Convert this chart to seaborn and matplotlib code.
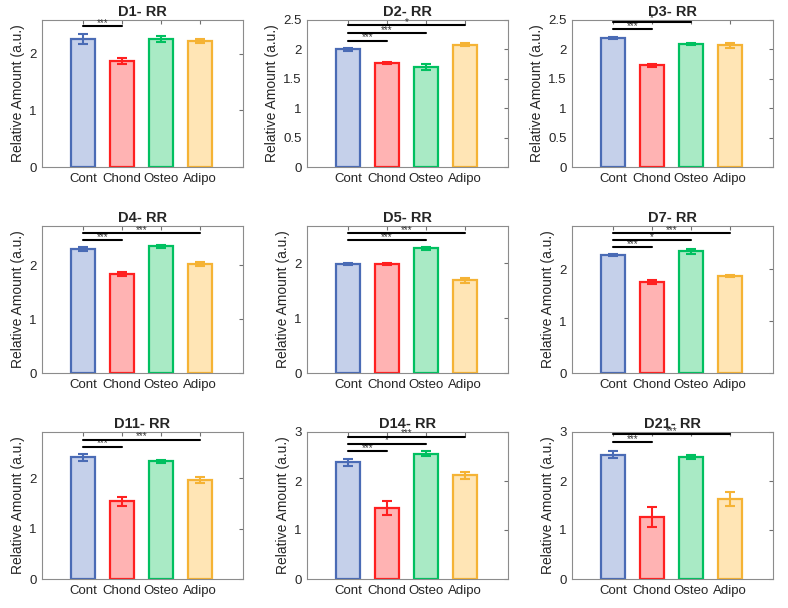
import pandas as pd
import seaborn as sns
import matplotlib.pyplot as plt
from matplotlib.ticker import FormatStrFormatter

groups = ["Cont", "Chond", "Osteo", "Adipo"]
days = ["D1", "D2", "D3", "D4", "D5", "D7", "D11", "D14", "D21"]

means = [
    [2.27, 1.87, 2.26, 2.23],
    [2.00, 1.77, 1.70, 2.08],
    [2.19, 1.73, 2.09, 2.07],
    [2.30, 1.84, 2.35, 2.03],
    [1.99, 1.99, 2.27, 1.69],
    [2.28, 1.75, 2.35, 1.88],
    [2.42, 1.54, 2.34, 1.96],
    [2.38, 1.45, 2.56, 2.12],
    [2.54, 1.27, 2.49, 1.64],
]
errs = [
    [0.09, 0.05, 0.05, 0.04],
    [0.02, 0.02, 0.05, 0.03],
    [0.02, 0.03, 0.02, 0.04],
    [0.04, 0.04, 0.02, 0.04],
    [0.02, 0.02, 0.02, 0.05],
    [0.02, 0.04, 0.05, 0.02],
    [0.07, 0.09, 0.03, 0.06],
    [0.07, 0.15, 0.05, 0.07],
    [0.07, 0.20, 0.04, 0.14],
]
# brackets from Cont to another group: (group index, height, stars)
sig = [
    [(1, 2.49, "***")],
    [(1, 2.15, "***"), (2, 2.28, "***"), (3, 2.41, "*")],
    [(1, 2.35, "***"), (2, 2.47, "*")],
    [(1, 2.47, "***"), (3, 2.60, "***")],
    [(2, 2.42, "***"), (3, 2.55, "***")],
    [(1, 2.43, "***"), (2, 2.56, "*"), (3, 2.70, "***")],
    [(1, 2.63, "***"), (3, 2.77, "***")],
    [(1, 2.61, "***"), (2, 2.76, "*"), (3, 2.90, "***")],
    [(1, 2.79, "***"), (3, 2.95, "***")],
]
ymax = [2.6, 2.5, 2.5, 2.73, 2.68, 2.84, 2.92, 3.0, 3.0]

edges = ["#4A6BB5", "#FF2020", "#00C060", "#F5B335"]
fills = ["#C5D0EA", "#FFB3B3", "#A9EAC5", "#FFE5B5"]

sns.set_style("white")
plt.rcParams['font.family'] = ['Liberation Sans', 'DejaVu Sans']

W, H = 788, 608
fig = plt.figure(figsize=(W / 100, H / 100), dpi=100)

col_left = [42, 307, 572]
row_top = [20, 226, 432]
aw, ah = 201, 147

for i, day in enumerate(days):
    r, c = divmod(i, 3)
    ax = fig.add_axes([col_left[c] / W, (H - row_top[r] - ah) / H, aw / W, ah / H])
    df = pd.DataFrame({"group": groups, "value": means[i]})
    sns.barplot(data=df, x="group", y="value", hue="group", palette=fills,
                width=0.6, linewidth=1.6, errorbar=None, legend=False,
                saturation=1, ax=ax)
    for patch, ec in zip(ax.patches, edges):
        patch.set_edgecolor(ec)
    for j in range(4):
        ax.errorbar(j, means[i][j], yerr=errs[i][j], color=edges[j],
                    capsize=3.5, elinewidth=1.5, capthick=1.5, zorder=5)
    for g, y, stars in sig[i]:
        ax.plot([0, g], [y, y], color="black", lw=1.5, zorder=6)
        ax.text(g / 2, y - 0.03, stars, ha="center", va="bottom",
                fontsize=7, color="#333333")

    ax.set_xlim(-1.05, 4.1)
    ax.set_ylim(0, ymax[i])
    if ymax[i] <= 2.5:
        ax.set_yticks([0, 0.5, 1, 1.5, 2, 2.5])
    elif ymax[i] >= 3:
        ax.set_yticks([0, 1, 2, 3])
    else:
        ax.set_yticks([0, 1, 2])
    ax.yaxis.set_major_formatter(FormatStrFormatter("%g"))
    ax.set_xlabel("")
    ax.set_ylabel("Relative Amount (a.u.)", fontsize=10, color="#262626", labelpad=3)
    ax.set_title(day + "- RR", fontsize=10.5, fontweight="bold", pad=3)
    ax.tick_params(direction="in", top=True, right=True, length=3,
                   labelsize=9.5, color="#707070", labelcolor="#262626", pad=4)
    for s in ax.spines.values():
        s.set_color("#8C8C8C")
        s.set_linewidth(0.8)

fig.savefig("out.png", dpi=100)
